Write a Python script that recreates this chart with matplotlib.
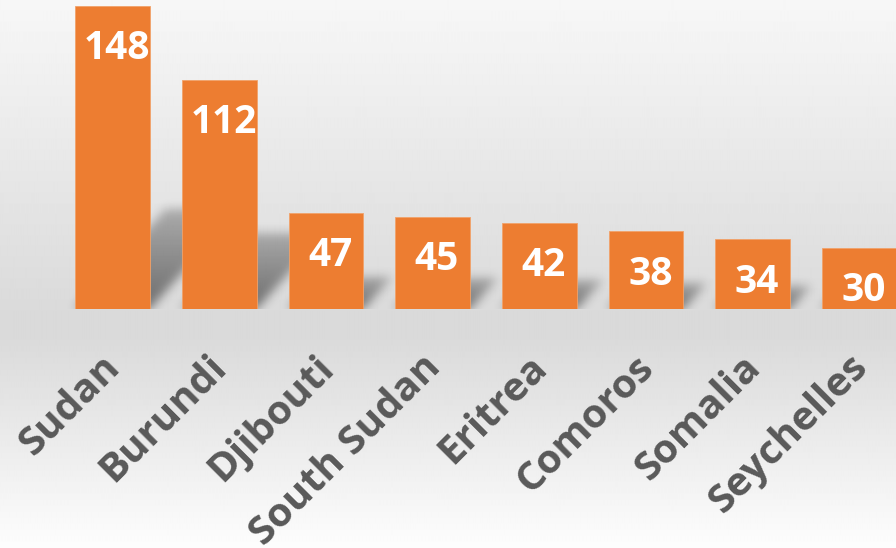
import numpy as np
import matplotlib.pyplot as plt
from matplotlib.transforms import ScaledTranslation

countries = ['Sudan', 'Burundi', 'Djibouti', 'South Sudan', 'Eritrea',
             'Comoros', 'Somalia', 'Seychelles']
values = [148, 112, 47, 45, 42, 38, 34, 30]

bar_color = '#ED7D31'
label_color = '#595959'
font = ['Open Sans', 'DejaVu Sans']

W, H = 896, 548
fig = plt.figure(figsize=(W / 100, H / 100), dpi=100)

# -- background gradient (light top -> gray at the axis -> white bottom) --
bg = fig.add_axes([0, 0, 1, 1], zorder=0)
yy = np.linspace(0, 1, H)
shade = np.interp(yy, [0.0, 0.57, 0.62, 1.0], [247, 218, 218, 253]) / 255.0
grad = np.repeat(shade[:, None], 8, axis=1)
bg.imshow(grad, cmap='gray', vmin=0, vmax=1, aspect='auto',
          extent=[0, 1, 0, 1], interpolation='bilinear')
bg.set_axis_off()

# -- plot axes --
base_px = 309
ax = fig.add_axes([0, (H - base_px) / H, 1, base_px / H], zorder=1)
ax.patch.set_alpha(0)
xmin, xmax = -1.054, 7.343
ymax = 150.9
ax.set_xlim(xmin, xmax)
ax.set_ylim(0, ymax)

width = 0.70
x = np.arange(len(values))

# -- soft perspective shadows behind the bars --
nx, ny = W, base_px
gx = np.linspace(xmin, xmax, nx)
gy = np.linspace(0, ymax, ny)
GX, GY = np.meshgrid(gx, gy)
alpha = np.zeros_like(GX)
skew = 0.9 * (xmax - xmin) / nx / (ymax / ny)  # data-x per data-y
for xi, v in zip(x, values):
    hs = 0.33 * v
    shift = GY * skew
    inside = (GX >= xi - width / 2 + shift) & (GX <= xi + width / 2 + shift) & (GY <= hs)
    fade = np.clip(1 - GY / hs, 0, 1)
    alpha = np.maximum(alpha, inside * (0.25 + 0.25 * fade))

def blur(a, sigma):
    r = int(3 * sigma)
    k = np.exp(-0.5 * (np.arange(-r, r + 1) / sigma) ** 2)
    k /= k.sum()
    a = np.apply_along_axis(lambda m: np.convolve(m, k, mode='same'), 1, a)
    a = np.apply_along_axis(lambda m: np.convolve(m, k, mode='same'), 0, a)
    return a

alpha = blur(alpha, 5)
shadow = np.zeros((ny, nx, 4))
shadow[..., 3] = alpha
ax.imshow(shadow, origin='lower', extent=[xmin, xmax, 0, ymax],
          aspect='auto', zorder=1, interpolation='bilinear')

ax.bar(x, values, width=width, color=bar_color, edgecolor='#F1A26A',
       linewidth=0.6, zorder=2)

for xi, v in zip(x, values):
    ax.text(xi + 0.04, v - 21, str(v), ha='center', va='center',
            color='white', fontsize=28, fontweight='bold', family=font, zorder=3)

ax.set_xticks(x)
ax.set_xticklabels(countries, rotation=45, ha='right', va='top',
                   rotation_mode='anchor', fontsize=29, fontweight='bold',
                   color=label_color, family=font)
ax.tick_params(axis='x', length=0, pad=22)
offset = ScaledTranslation(-0.12, -0.08, fig.dpi_scale_trans)
for lab in ax.get_xticklabels():
    lab.set_transform(lab.get_transform() + offset)
ax.set_yticks([])
for s in ax.spines.values():
    s.set_visible(False)

fig.savefig('out.png', dpi=100)
